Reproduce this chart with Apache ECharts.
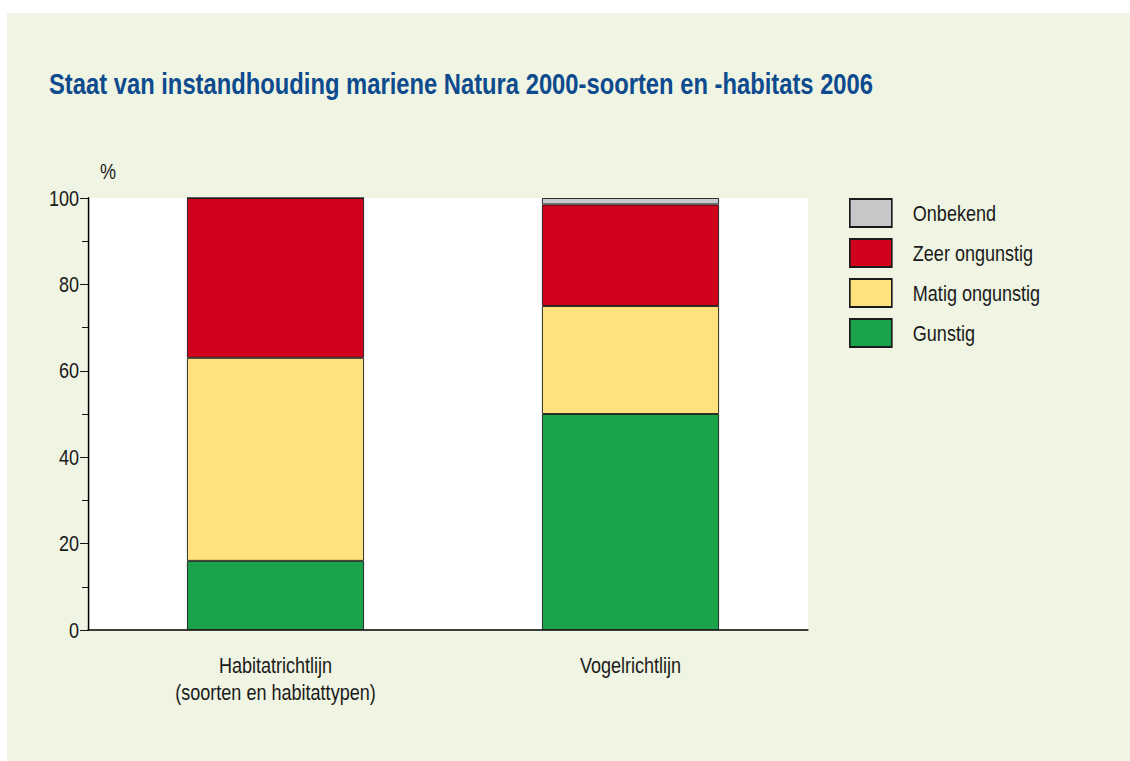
<!DOCTYPE html>
<html>
<head>
<meta charset="utf-8">
<script src="https://cdn.jsdelivr.net/npm/echarts@6/dist/echarts.min.js"></script>
<style>
  html, body { margin: 0; padding: 0; background: #ffffff; overflow: hidden; }
  #panel { position: absolute; left: 7px; top: 13px; width: 1123px; height: 748px; background: #f0f4e2; }
  /* The chart is laid out on a wider canvas and squeezed horizontally,
     which gives the narrow, condensed lettering of the house style. */
  #chart { position: absolute; left: 0; top: 0; height: 761px; transform-origin: 0 0; }
</style>
</head>
<body>
<div id="panel"></div>
<div id="chart"></div>
<script>
// Categories (directives) and share per conservation status, in %
const categories = ['Habitatrichtlijn\n(soorten en habitattypen)', 'Vogelrichtlijn'];
const gunstig = [16, 50];
const matigOngunstig = [47, 25];
const zeerOngunstig = [37, 23.5];
const onbekend = [0, 1.5];
const yTicks = [0, 20, 40, 60, 80, 100];

const SX = 0.82;                 // horizontal condensing factor
const px = v => v / SX;          // screen x-distance -> layout x-distance

const el = document.getElementById('chart');
el.style.width = px(1130) + 'px';
el.style.transform = 'scaleX(' + SX + ')';

const FONT = '"Liberation Sans", Arial, Helvetica, sans-serif';
const TEXT = '#1a1a1a';
const yMin = yTicks[0];
const yMax = yTicks[yTicks.length - 1];

function barSeries(name, data, color) {
  return {
    name: name,
    type: 'bar',
    stack: 'total',
    xAxisIndex: 1,
    yAxisIndex: 1,
    data: data,
    barWidth: px(177),
    itemStyle: { color: color, borderColor: TEXT, borderWidth: 1 },
    emphasis: { disabled: true }
  };
}

const chart = echarts.init(el, null, { renderer: 'svg' });
chart.setOption({
  backgroundColor: 'transparent',
  animation: false,
  title: {
    text: 'Staat van instandhouding mariene Natura 2000-soorten en -habitats 2006',
    left: px(49),
    top: 70,
    padding: 0,
    textStyle: { fontFamily: FONT, fontSize: 29, fontWeight: 'bold', color: '#0d4a8e' }
  },
  legend: {
    orient: 'vertical',
    left: px(849),
    top: 198,
    padding: 0,
    itemWidth: px(42),
    itemHeight: 28,
    itemGap: 10,
    icon: 'rect',
    data: ['Onbekend', 'Zeer ongunstig', 'Matig ongunstig', 'Gunstig'],
    textStyle: { fontFamily: FONT, fontSize: 22, lineHeight: 28, color: TEXT, padding: [0, 0, 0, px(21) - 5] }
  },
  grid: [
    // frame: white plot area, value axis and base line
    { left: px(88), top: 198, width: px(720), height: 432,
      show: true, backgroundColor: '#ffffff', borderWidth: 0 },
    // bar area
    { left: px(98), top: 198, width: px(710), height: 432 }
  ],
  xAxis: [
    {
      type: 'category',
      gridIndex: 0,
      data: categories,
      axisLine: { lineStyle: { color: '#000000', width: 1.5 } },
      axisTick: { show: false },
      axisLabel: { show: false }
    },
    {
      type: 'category',
      gridIndex: 1,
      data: categories,
      axisLine: { show: false },
      axisTick: { show: false },
      axisLabel: { fontFamily: FONT, fontSize: 22, color: TEXT, margin: 22, lineHeight: 27 }
    }
  ],
  yAxis: [
    {
      type: 'value',
      gridIndex: 0,
      min: yMin,
      max: yMax,
      interval: 20,
      name: '%',
      nameLocation: 'end',
      nameGap: 16,
      nameTextStyle: { fontFamily: FONT, fontSize: 22, color: TEXT, align: 'left', padding: [0, 0, 0, px(12)] },
      axisLine: { show: true, lineStyle: { color: '#000000', width: 1.5 / SX } },
      axisTick: { show: true, length: px(8), lineStyle: { color: '#000000', width: 1 } },
      minorTick: { show: true, splitNumber: 2, length: px(6), lineStyle: { color: '#000000', width: 1 } },
      splitLine: { show: false },
      axisLabel: { fontFamily: FONT, fontSize: 22, color: TEXT, margin: px(9) }
    },
    {
      type: 'value',
      gridIndex: 1,
      min: yMin,
      max: yMax,
      interval: 20,
      show: false
    }
  ],
  series: [
    barSeries('Gunstig', gunstig, '#1aa34a'),
    barSeries('Matig ongunstig', matigOngunstig, '#ffe17e'),
    barSeries('Zeer ongunstig', zeerOngunstig, '#d0021b'),
    barSeries('Onbekend', onbekend, '#c6c7c9')
  ]
});
</script>
</body>
</html>
